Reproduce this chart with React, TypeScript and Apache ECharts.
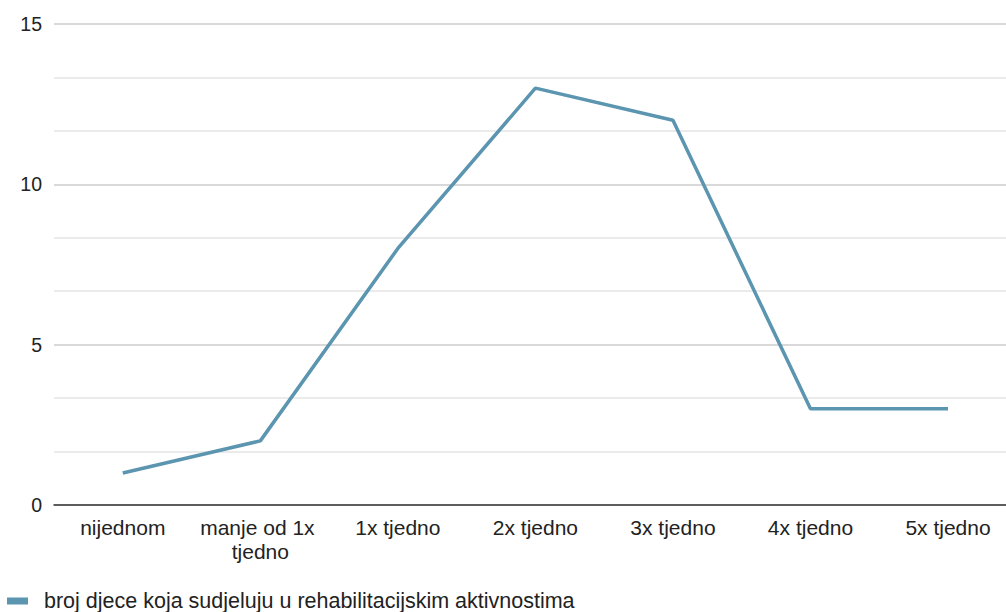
import React, { useEffect, useRef } from "react";
import * as echarts from "echarts";

const categories = ["nijednom", "manje od 1x tjedno", "1x tjedno", "2x tjedno", "3x tjedno", "4x tjedno", "5x tjedno"];
const values = [1, 2, 8, 13, 12, 3, 3];
const seriesName = "broj djece koja sudjeluju u rehabilitacijskim aktivnostima";

export default function App() {
  const ref = useRef<HTMLDivElement>(null);
  useEffect(() => {
    if (!ref.current) return;
    const chart = echarts.init(ref.current, undefined, { renderer: "svg" });
    const font = "'Liberation Sans', Arial, sans-serif";
    chart.setOption({
      animation: false,
      textStyle: { fontFamily: font },
      grid: { left: 54, right: 0, top: 24, bottom: 107, containLabel: false },
      legend: {
        left: 7,
        bottom: 0,
        padding: 0,
        itemWidth: 21,
        itemHeight: 7,
        itemGap: 10,
        icon: "rect",
        textStyle: { fontSize: 21.5, color: "#222", fontFamily: font, padding: [0, 0, 0, 11] },
        data: [seriesName],
      },
      xAxis: {
        type: "category",
        data: categories,
        boundaryGap: true,
        axisLine: { lineStyle: { color: "#333", width: 1.5 } },
        axisTick: { show: false },
        axisLabel: {
          fontSize: 21,
          color: "#222",
          margin: 10,
          lineHeight: 24,
          width: 132,
          overflow: "break",
          interval: 0,
          fontFamily: font,
        },
      },
      yAxis: {
        type: "value",
        min: 0,
        max: 15,
        interval: 5,
        axisLine: { show: false },
        axisTick: { show: false },
        axisLabel: { fontSize: 19.5, color: "#222", margin: 12, fontFamily: font },
        splitLine: { lineStyle: { color: "#cccccc", width: 1.5 } },
        minorTick: { show: false, splitNumber: 3 },
        minorSplitLine: { show: true, lineStyle: { color: "#e4e4e4", width: 1.5 } },
      },
      series: [
        {
          name: seriesName,
          type: "line",
          data: values,
          symbol: "none",
          lineStyle: { color: "#5b95b0", width: 3.5 },
          itemStyle: { color: "#5b95b0" },
        },
      ],
    });
    return () => chart.dispose();
  }, []);
  return (
    <div style={{ position: "absolute", left: 0, top: 0, width: 1006, height: 612, overflow: "hidden" }}>
      <div ref={ref} style={{ width: 1017, height: 612 }} />
    </div>
  );
}
